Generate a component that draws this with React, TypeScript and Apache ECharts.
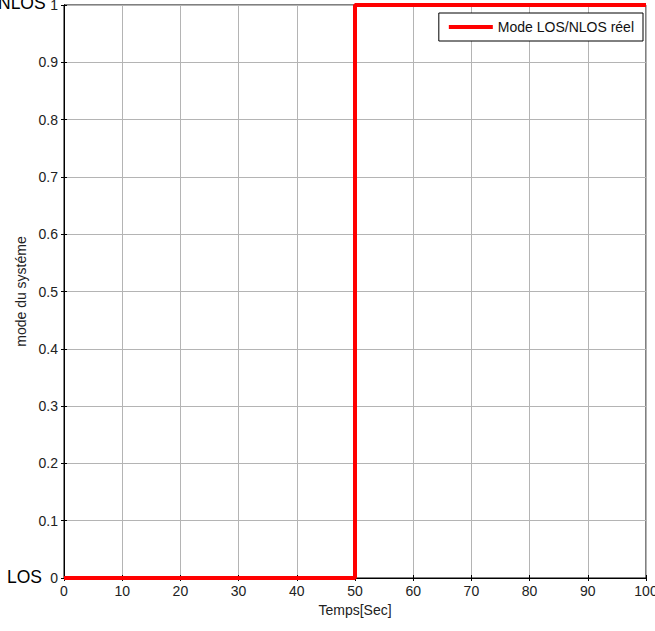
import React, { useEffect, useRef } from "react";
import * as echarts from "echarts";

const times = [0, 50, 50, 100];
const modes = [0, 0, 1, 1];
const xTicks = [0, 10, 20, 30, 40, 50, 60, 70, 80, 90, 100];
const seriesName = "Mode LOS/NLOS réel";
const yLabelTop = "NLOS";
const yLabelBottom = "LOS";

export default function App() {
  const ref = useRef<HTMLDivElement>(null);
  useEffect(() => {
    const chart = echarts.init(ref.current!, null, { renderer: "svg" });
    const font = "Liberation Sans, Arial, sans-serif";
    const gridLeft = 64, gridTop = 5, gridRight = 9, gridBottom = 53;
    const tickCommon = { show: true, inside: true, length: 3, lineStyle: { color: "#000" } };
    chart.setOption({
      animation: false,
      backgroundColor: "#fff",
      textStyle: { fontFamily: font },
      grid: {
        left: gridLeft, top: gridTop, right: gridRight, bottom: gridBottom,
        outerBoundsMode: "none",
        containLabel: false,
        show: true, borderColor: "#000", borderWidth: 1, backgroundColor: "transparent",
      },
      legend: {
        data: [seriesName],
        right: 12, top: 13,
        orient: "vertical",
        backgroundColor: "#fff",
        borderColor: "#000",
        borderWidth: 1,
        padding: [7, 9, 7, 10],
        itemWidth: 44,
        itemHeight: 4,
        itemGap: 6,
        icon: "rect",
        textStyle: { fontSize: 14, color: "#111", fontFamily: font },
      },
      xAxis: [
        {
          type: "value", min: xTicks[0], max: xTicks[xTicks.length - 1], interval: 10,
          name: "Temps[Sec]", nameLocation: "middle", nameGap: 25,
          nameTextStyle: { fontSize: 14, color: "#222", fontFamily: font },
          axisLine: { show: true, lineStyle: { color: "#000" } },
          axisTick: tickCommon,
          axisLabel: { fontSize: 14, color: "#222", margin: 6, fontFamily: font },
          splitLine: { show: true, lineStyle: { color: "#b4b4b4", width: 1 } },
        },
        {
          type: "value", min: xTicks[0], max: xTicks[xTicks.length - 1], interval: 10, position: "top",
          axisLine: { show: true, lineStyle: { color: "#000" } },
          axisTick: tickCommon, axisLabel: { show: false }, splitLine: { show: false },
        },
      ],
      yAxis: [
        {
          type: "value", min: 0, max: 1, interval: 0.1,
          name: "mode du systéme", nameLocation: "middle", nameGap: 35,
          nameTextStyle: { fontSize: 14, color: "#222", fontFamily: font },
          axisLine: { show: true, lineStyle: { color: "#000" } },
          axisTick: tickCommon,
          axisLabel: {
            fontSize: 14, color: "#222", margin: 6, fontFamily: font,
            formatter: (v: number) => (Math.round(v * 10) / 10).toString(),
          },
          splitLine: { show: true, lineStyle: { color: "#b4b4b4", width: 1 } },
        },
        {
          type: "value", min: 0, max: 1, interval: 0.1, position: "right",
          axisLine: { show: true, lineStyle: { color: "#000" } },
          axisTick: tickCommon, axisLabel: { show: false }, splitLine: { show: false },
        },
      ],
      graphic: [
        {
          type: "text", left: -2, top: -6,
          style: { text: yLabelTop, fontSize: 17.5, fill: "#000", fontFamily: font },
        },
        {
          type: "text", left: 7, top: 568,
          style: { text: yLabelBottom, fontSize: 17.5, fill: "#000", fontFamily: font },
        },
      ],
      series: [
        {
          name: seriesName,
          type: "line",
          data: times.map((t, i) => [t, modes[i]]),
          showSymbol: false,
          symbol: "none",
          clip: false,
          lineStyle: { color: "#ff0000", width: 4 },
          itemStyle: { color: "#ff0000" },
          z: 5,
        },
      ],
    });
    return () => chart.dispose();
  }, []);
  return (
    <div
      ref={ref}
      style={{ position: "fixed", left: 0, top: 0, width: 655, height: 631, background: "#fff" }}
    />
  );
}
